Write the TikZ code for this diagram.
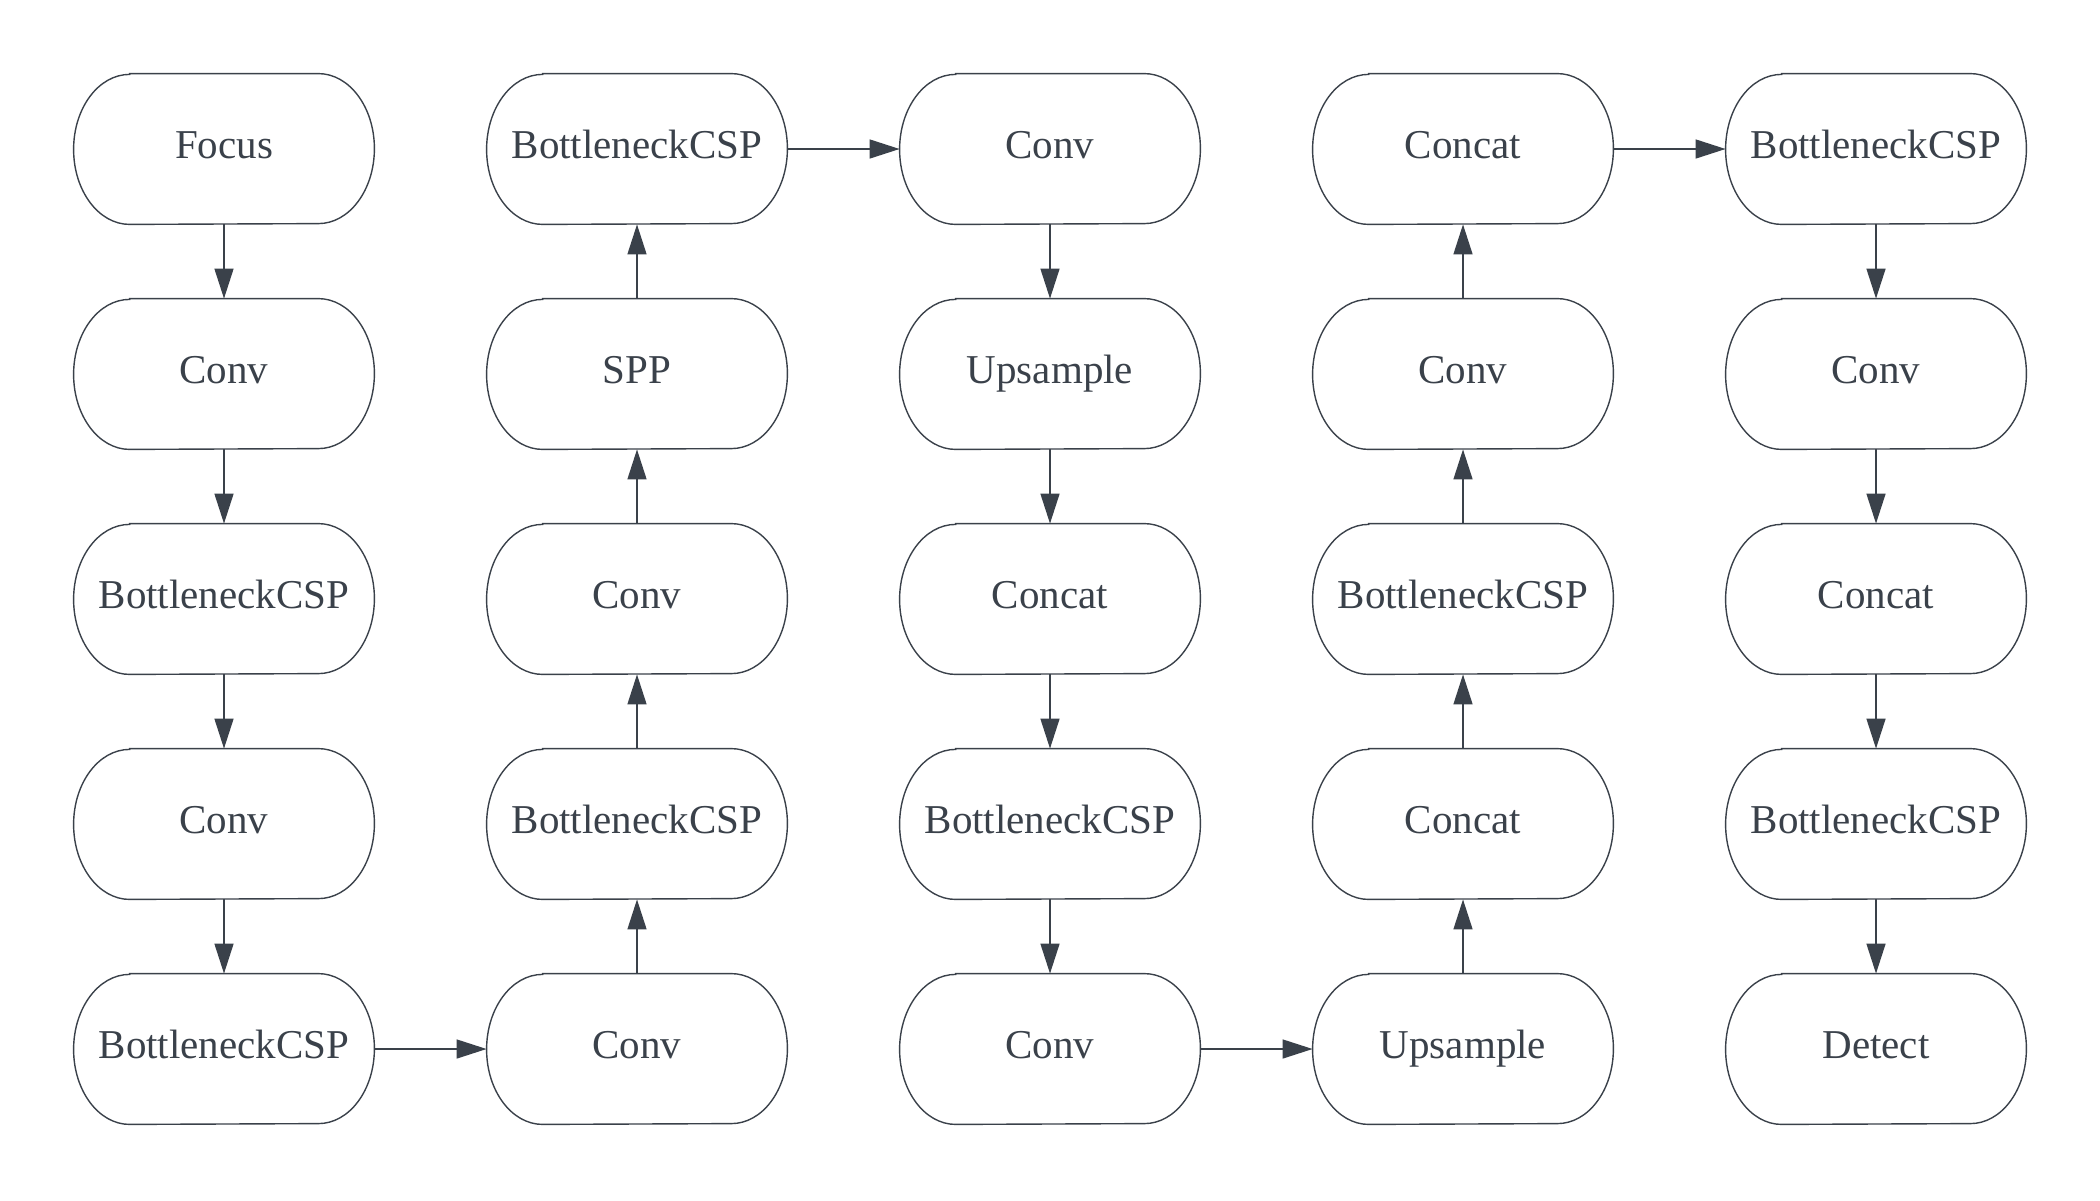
\documentclass[tikz,border=0pt]{standalone}
\usepackage{fontspec}
\setmainfont{Liberation Serif}
\usetikzlibrary{arrows.meta}
\definecolor{ink}{RGB}{58,65,74}
\tikzset{
  blk/.style={draw=none, minimum width=150pt, minimum height=75pt, inner sep=0pt, text=ink, text height=12pt, text depth=3pt, font=\fontsize{20.5}{24}\selectfont},
  outline/.style={draw=ink, line width=0.7pt},
  link/.style={draw=ink, line width=0.7pt, -{Triangle[length=15pt,width=9.5pt]}}
}
\begin{document}
\begin{tikzpicture}[x=0.5pt,y=-0.5pt]
\useasboundingbox (0,0) rectangle (2100,1200);
% column 1
\node[blk] (a1) at (224,149) {Focus};
\node[blk] (a2) at (224,374) {Conv};
\node[blk] (a3) at (224,599) {BottleneckCSP};
\node[blk] (a4) at (224,824) {Conv};
\node[blk] (a5) at (224,1049) {BottleneckCSP};
% column 2
\node[blk] (b1) at (637,149) {BottleneckCSP};
\node[blk] (b2) at (637,374) {SPP};
\node[blk] (b3) at (637,599) {Conv};
\node[blk] (b4) at (637,824) {BottleneckCSP};
\node[blk] (b5) at (637,1049) {Conv};
% column 3
\node[blk] (c1) at (1050,149) {Conv};
\node[blk] (c2) at (1050,374) {Upsample};
\node[blk] (c3) at (1050,599) {Concat};
\node[blk] (c4) at (1050,824) {BottleneckCSP};
\node[blk] (c5) at (1050,1049) {Conv};
% column 4
\node[blk] (d1) at (1463,149) {Concat};
\node[blk] (d2) at (1463,374) {Conv};
\node[blk] (d3) at (1463,599) {BottleneckCSP};
\node[blk] (d4) at (1463,824) {Concat};
\node[blk] (d5) at (1463,1049) {Upsample};
% column 5
\node[blk] (e1) at (1876,149) {BottleneckCSP};
\node[blk] (e2) at (1876,374) {Conv};
\node[blk] (e3) at (1876,599) {Concat};
\node[blk] (e4) at (1876,824) {BottleneckCSP};
\node[blk] (e5) at (1876,1049) {Detect};
% outlines: straight top and bottom, half-elliptic ends
\foreach \n in {a1,a2,a3,a4,a5,b1,b2,b3,b4,b5,c1,c2,c3,c4,c5,d1,d2,d3,d4,d5,e1,e2,e3,e4,e5}{
  \draw[outline] ([xshift=28pt]\n.north west) -- ([xshift=-28pt]\n.north east)
    arc[start angle=90, end angle=-90, x radius=28pt, y radius=37.5pt]
    -- ([xshift=28pt]\n.south west)
    arc[start angle=270, end angle=90, x radius=28pt, y radius=37.5pt] -- cycle;
}
% connectors
\draw[link] (a1) -- (a2);
\draw[link] (a2) -- (a3);
\draw[link] (a3) -- (a4);
\draw[link] (a4) -- (a5);
\draw[link] (a5) -- (b5);
\draw[link] (b5) -- (b4);
\draw[link] (b4) -- (b3);
\draw[link] (b3) -- (b2);
\draw[link] (b2) -- (b1);
\draw[link] (b1) -- (c1);
\draw[link] (c1) -- (c2);
\draw[link] (c2) -- (c3);
\draw[link] (c3) -- (c4);
\draw[link] (c4) -- (c5);
\draw[link] (c5) -- (d5);
\draw[link] (d5) -- (d4);
\draw[link] (d4) -- (d3);
\draw[link] (d3) -- (d2);
\draw[link] (d2) -- (d1);
\draw[link] (d1) -- (e1);
\draw[link] (e1) -- (e2);
\draw[link] (e2) -- (e3);
\draw[link] (e3) -- (e4);
\draw[link] (e4) -- (e5);
\end{tikzpicture}
\end{document}
